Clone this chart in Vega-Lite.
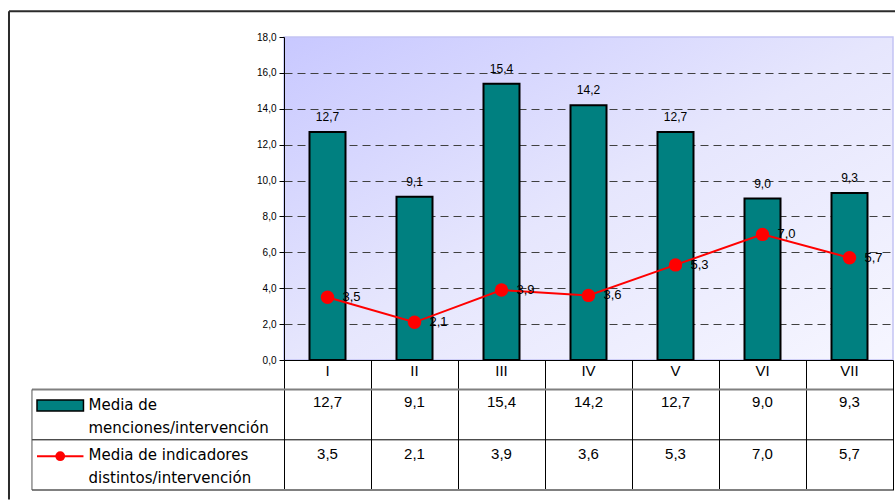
{
  "$schema": "https://vega.github.io/schema/vega-lite/v6.json",
  "width": 609,
  "height": 323,
  "autosize": {"type": "pad"},
  "padding": {"left": 7, "top": 10, "right": 0, "bottom": 0},
  "background": "#ffffff",
  "config": {
    "locale": {"number": {"decimal": ",", "thousands": ".", "grouping": [3], "currency": ["", " €"]}}
  },
  "view": {
    "fill": {
      "gradient": "linear", "x1": 0, "y1": 0, "x2": 1, "y2": 1,
      "stops": [
        {"offset": 0, "color": "#c8c8ff"},
        {"offset": 0.5, "color": "#e6e6fd"},
        {"offset": 1, "color": "#f6f6ff"}
      ]
    },
    "stroke": "#c4c4f4",
    "strokeWidth": 1.5
  },
  "resolve": {"axis": {"x": "independent", "y": "independent"}},
  "datasets": {
    "intervenciones": [
      {"cat": "I", "orden": 1, "menciones": 12.7, "indicadores": 3.5},
      {"cat": "II", "orden": 2, "menciones": 9.1, "indicadores": 2.1},
      {"cat": "III", "orden": 3, "menciones": 15.4, "indicadores": 3.9},
      {"cat": "IV", "orden": 4, "menciones": 14.2, "indicadores": 3.6},
      {"cat": "V", "orden": 5, "menciones": 12.7, "indicadores": 5.3},
      {"cat": "VI", "orden": 6, "menciones": 9.0, "indicadores": 7.0},
      {"cat": "VII", "orden": 7, "menciones": 9.3, "indicadores": 5.7}
    ],
    "uno": [{}]
  },
  "layer": [
    {
      "data": {"name": "intervenciones"},
      "mark": {"type": "bar", "width": 36, "fill": "#008080", "stroke": "#000000", "strokeWidth": 2},
      "encoding": {
        "x": {
          "field": "orden", "type": "quantitative", "title": null,
          "scale": {"domain": [0.5, 7.5], "nice": false, "zero": false, "padding": 0},
          "axis": {
            "values": [0.5, 1.5, 2.5, 3.5, 4.5, 5.5, 6.5, 7.5],
            "tickSize": 130, "tickColor": "#000000", "tickWidth": 1,
            "domainColor": "#000000", "domainWidth": 1,
            "labels": false, "grid": false, "title": null
          }
        },
        "y": {
          "field": "menciones", "type": "quantitative", "title": null,
          "scale": {"domain": [0, 18], "nice": false, "padding": 0},
          "axis": {
            "values": [0, 2, 4, 6, 8, 10, 12, 14, 16, 18],
            "format": ".1f",
            "labelOverlap": false,
            "grid": true, "gridDash": [8, 5], "gridColor": "#404040", "gridWidth": 1,
            "gridOpacity": {"condition": {"test": "datum.value >= 18 || datum.value <= 0", "value": 0}, "value": 1},
            "tickSize": 5, "tickColor": "#000000", "domainColor": "#000000",
            "labelFont": "Liberation Sans", "labelFontSize": 10, "labelColor": "#000000",
            "labelPadding": 3, "title": null
          }
        }
      }
    },
    {
      "data": {"name": "intervenciones"},
      "mark": {"type": "text", "baseline": "middle", "dy": -15, "font": "Liberation Sans", "fontSize": 12, "color": "#000000"},
      "encoding": {
        "x": {"field": "orden", "type": "quantitative", "axis": null},
        "y": {"field": "menciones", "type": "quantitative", "axis": null},
        "text": {"field": "menciones", "type": "quantitative", "format": ".1f"}
      }
    },
    {
      "data": {"name": "intervenciones"},
      "mark": {"type": "line", "color": "#ff0000", "strokeWidth": 2},
      "encoding": {
        "x": {"field": "orden", "type": "quantitative", "axis": null},
        "y": {"field": "indicadores", "type": "quantitative", "axis": null}
      }
    },
    {
      "data": {"name": "intervenciones"},
      "mark": {"type": "circle", "size": 180, "color": "#ff0000", "opacity": 1},
      "encoding": {
        "x": {"field": "orden", "type": "quantitative", "axis": null},
        "y": {"field": "indicadores", "type": "quantitative", "axis": null}
      }
    },
    {
      "data": {"name": "intervenciones"},
      "mark": {"type": "text", "align": "left", "baseline": "middle", "dx": 15, "font": "Liberation Sans", "fontSize": 13, "color": "#000000"},
      "encoding": {
        "x": {"field": "orden", "type": "quantitative", "axis": null},
        "y": {"field": "indicadores", "type": "quantitative", "axis": null},
        "text": {"field": "indicadores", "type": "quantitative", "format": ".1f"}
      }
    },
    {
      "data": {"name": "intervenciones"},
      "mark": {"type": "text", "baseline": "middle", "font": "Liberation Sans", "fontSize": 15, "color": "#000000"},
      "encoding": {
        "x": {"field": "orden", "type": "quantitative", "axis": null},
        "y": {"datum": -0.64, "axis": null},
        "text": {"field": "cat", "type": "nominal"}
      }
    },
    {
      "data": {"name": "intervenciones"},
      "mark": {"type": "text", "baseline": "middle", "font": "Liberation Sans", "fontSize": 15, "color": "#000000"},
      "encoding": {
        "x": {"field": "orden", "type": "quantitative", "axis": null},
        "y": {"datum": -2.357, "axis": null},
        "text": {"field": "menciones", "type": "quantitative", "format": ".1f"}
      }
    },
    {
      "data": {"name": "intervenciones"},
      "mark": {"type": "text", "baseline": "middle", "font": "Liberation Sans", "fontSize": 15, "color": "#000000"},
      "encoding": {
        "x": {"field": "orden", "type": "quantitative", "axis": null},
        "y": {"datum": -5.255, "axis": null},
        "text": {"field": "indicadores", "type": "quantitative", "format": ".1f"}
      }
    },
    {
      "data": {"name": "uno"},
      "mark": {"type": "rule", "color": "#808080", "strokeWidth": 2},
      "encoding": {
        "x": {"datum": -2.397, "axis": null}, "x2": {"datum": 7.5},
        "y": {"datum": -1.644, "axis": null}
      }
    },
    {
      "data": {"name": "uno"},
      "mark": {"type": "rule", "color": "#000000", "strokeWidth": 1},
      "encoding": {
        "x": {"datum": -2.397, "axis": null}, "x2": {"datum": 7.5},
        "y": {"datum": -4.447, "axis": null}
      }
    },
    {
      "data": {"name": "uno"},
      "mark": {"type": "rule", "color": "#808080", "strokeWidth": 2},
      "encoding": {
        "x": {"datum": -2.397, "axis": null}, "x2": {"datum": 7.5},
        "y": {"datum": -7.245, "axis": null}
      }
    },
    {
      "data": {"name": "uno"},
      "mark": {"type": "rule", "color": "#555555", "strokeWidth": 1},
      "encoding": {
        "x": {"datum": -2.397, "axis": null},
        "y": {"datum": -1.644, "axis": null}, "y2": {"datum": -7.245}
      }
    },
    {
      "data": {"name": "uno"},
      "mark": {"type": "rule", "color": "#2b2b2b", "strokeWidth": 2},
      "encoding": {
        "x": {"datum": -2.661, "axis": null}, "x2": {"datum": 7.523},
        "y": {"datum": 19.438, "axis": null}
      }
    },
    {
      "data": {"name": "uno"},
      "mark": {"type": "rule", "color": "#2b2b2b", "strokeWidth": 2},
      "encoding": {
        "x": {"datum": -2.661, "axis": null},
        "y": {"datum": 19.438, "axis": null}, "y2": {"datum": -7.78}
      }
    },
    {
      "data": {"name": "uno"},
      "mark": {"type": "rect", "fill": "#008080", "stroke": "#000000", "strokeWidth": 1.5},
      "encoding": {
        "x": {"datum": -2.339, "axis": null}, "x2": {"datum": -1.805},
        "y": {"datum": -2.229, "axis": null}, "y2": {"datum": -2.842}
      }
    },
    {
      "data": {"name": "uno"},
      "mark": {"type": "rule", "color": "#ff0000", "strokeWidth": 2},
      "encoding": {
        "x": {"datum": -2.339, "axis": null}, "x2": {"datum": -1.805},
        "y": {"datum": -5.361, "axis": null}
      }
    },
    {
      "data": {"name": "uno"},
      "mark": {"type": "circle", "size": 95, "color": "#ff0000", "opacity": 1},
      "encoding": {
        "x": {"datum": -2.072, "axis": null},
        "y": {"datum": -5.361, "axis": null}
      }
    },
    {
      "data": {"values": [{"serie": "Media de\nmenciones/intervención"}]},
      "mark": {"type": "text", "align": "left", "baseline": "middle", "lineBreak": "\n", "lineHeight": 23, "font": "DejaVu Sans", "fontSize": 15, "color": "#000000"},
      "encoding": {
        "x": {"datum": -1.747, "axis": null},
        "y": {"datum": -2.48, "axis": null},
        "text": {"field": "serie", "type": "nominal"}
      }
    },
    {
      "data": {"values": [{"serie": "Media de indicadores\ndistintos/intervención"}]},
      "mark": {"type": "text", "align": "left", "baseline": "middle", "lineBreak": "\n", "lineHeight": 22.5, "font": "DejaVu Sans", "fontSize": 15, "color": "#000000"},
      "encoding": {
        "x": {"datum": -1.747, "axis": null},
        "y": {"datum": -5.32, "axis": null},
        "text": {"field": "serie", "type": "nominal"}
      }
    }
  ]
}
